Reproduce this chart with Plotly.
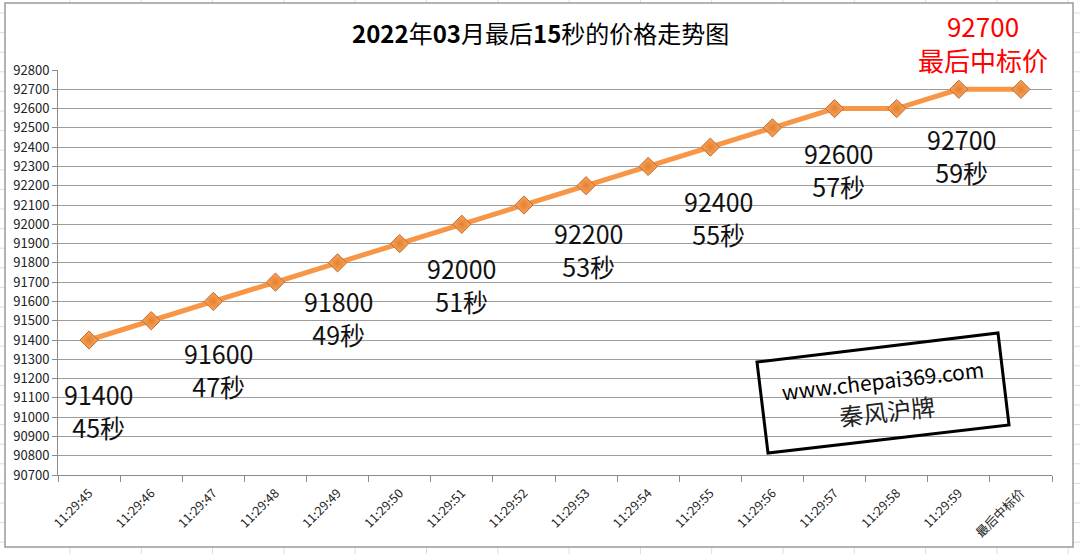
import plotly.graph_objects as go

# ---- data ----
times = ["11:29:45", "11:29:46", "11:29:47", "11:29:48", "11:29:49", "11:29:50",
         "11:29:51", "11:29:52", "11:29:53", "11:29:54", "11:29:55", "11:29:56",
         "11:29:57", "11:29:58", "11:29:59", "最后中标价"]
prices = [91400, 91500, 91600, 91700, 91800, 91900, 92000, 92100,
          92200, 92300, 92400, 92500, 92600, 92600, 92700, 92700]

label_idx = [0, 2, 4, 6, 8, 10, 12, 14]
label_sec = ["45秒", "47秒", "49秒", "51秒", "53秒", "55秒", "57秒", "59秒"]
label_dx = [9, 5, 1, 0, 2, 8, 4, 3]
label_dy = [-70, -68, -55, -60, -64, -70, -61, -66]

title_text = "<b>2022</b>年<b>03</b>月最后<b>15</b>秒的价格走势图"
final_label = "最后中标价"

# ---- layout geometry (pixels) ----
W, H = 1080, 554
L, R, T, B = 58, 28, 70, 79
PW, PH = W - L - R, H - T - B

def fx(px):
    return (px - L) / PW

def fy(py):
    return (H - B - py) / PH

FONT = "Noto Sans CJK SC"
ORANGE = "#F79646"

fig = go.Figure()
fig.add_trace(go.Scatter(
    x=times, y=prices, mode="lines+markers",
    line=dict(color=ORANGE, width=5),
    marker=dict(symbol="diamond", size=14, color="#F9A55E",
                line=dict(color="#C06A2C", width=1),
                gradient=dict(type="radial", color="#E4802F")),
    hoverinfo="x+y", showlegend=False,
))

annotations = []
for i, s, dx, dy in zip(label_idx, label_sec, label_dx, label_dy):
    annotations.append(dict(
        x=times[i], y=prices[i], xref="x", yref="y",
        text=f"{prices[i]}<br>{s}", showarrow=False,
        xshift=dx, yshift=dy, align="center",
        xanchor="center", yanchor="middle",
        font=dict(family=FONT, size=25, color="#111111"),
    ))
# final price in red
annotations.append(dict(
    x=times[-1], y=prices[-1], xref="x", yref="y",
    text=f"{prices[-1]}<br>{final_label}", showarrow=False,
    xshift=-38, yshift=47, align="center",
    xanchor="center", yanchor="middle",
    font=dict(family=FONT, size=26, color="#FF0000"),
))
# title
annotations.append(dict(
    x=fx(540), y=fy(33), xref="paper", yref="paper",
    xanchor="center", yanchor="middle",
    text=title_text, showarrow=False,
    font=dict(family=FONT, size=24, color="#000000"),
))
# watermark
annotations.append(dict(
    x=fx(882), y=fy(380), xref="paper", yref="paper",
    xanchor="center", yanchor="middle",
    text="www.chepai369.com", showarrow=False, textangle=-6.5,
    font=dict(family=FONT, size=21, color="#000000"),
))
annotations.append(dict(
    x=fx(887), y=fy(410), xref="paper", yref="paper",
    xanchor="center", yanchor="middle",
    text="秦风沪牌", showarrow=False, textangle=-6.5,
    font=dict(family=FONT, size=24, color="#222222"),
))

shapes = []
# spreadsheet grid behind the chart
col_x = [70 + 71.3 * k for k in range(15)]
for cx in col_x:
    shapes.append(dict(type="line", xref="paper", yref="paper",
                       x0=fx(cx), x1=fx(cx), y0=fy(0), y1=fy(H),
                       line=dict(color="#DCDCDC", width=1), layer="below"))
row_y = [13 + 19.6 * k for k in range(29)]
for ry in row_y:
    shapes.append(dict(type="line", xref="paper", yref="paper",
                       x0=fx(0), x1=fx(W), y0=fy(ry), y1=fy(ry),
                       line=dict(color="#DCDCDC", width=1), layer="below"))
# chart area
shapes.append(dict(type="rect", xref="paper", yref="paper",
                   x0=fx(5), x1=fx(1073), y0=fy(3), y1=fy(547),
                   fillcolor="white", line=dict(color="#9A9A9A", width=1.5),
                   layer="below"))
# watermark box
pts = [(757, 362), (998, 333), (1009, 425), (768, 453)]
path = "M " + " L ".join(f"{fx(px):.5f},{fy(py):.5f}" for px, py in pts) + " Z"
shapes.append(dict(type="path", xref="paper", yref="paper", path=path,
                   line=dict(color="#000000", width=3), layer="above"))

fig.update_layout(
    width=W, height=H,
    margin=dict(l=L, r=R, t=T, b=B, autoexpand=False),
    paper_bgcolor="white", plot_bgcolor="rgba(0,0,0,0)",
    annotations=annotations, shapes=shapes,
    xaxis=dict(
        type="category", range=[-0.5, len(times) - 0.5],
        showgrid=False, showline=True, linecolor="#8C8C8C", linewidth=1,
        ticks="outside", tickson="boundaries", ticklen=6, tickcolor="#8C8C8C",
        tickangle=-45, ticklabelstandoff=5,
        tickfont=dict(family=FONT, size=12.5, color="#222222"),
        zeroline=False, fixedrange=True, automargin=False,
    ),
    yaxis=dict(
        range=[90700, 92800], dtick=100, tick0=90700,
        showgrid=True, gridcolor="#9C9C9C", gridwidth=1,
        showline=True, linecolor="#8C8C8C", linewidth=1,
        ticks="outside", ticklen=5, tickcolor="#8C8C8C",
        tickfont=dict(family=FONT, size=13, color="#222222"),
        zeroline=False, fixedrange=True, tickformat="d", automargin=False,
    ),
)

fig.write_html("out.html", config={"displayModeBar": False},
               post_script="document.body.style.margin='0';document.body.style.padding='0';")
